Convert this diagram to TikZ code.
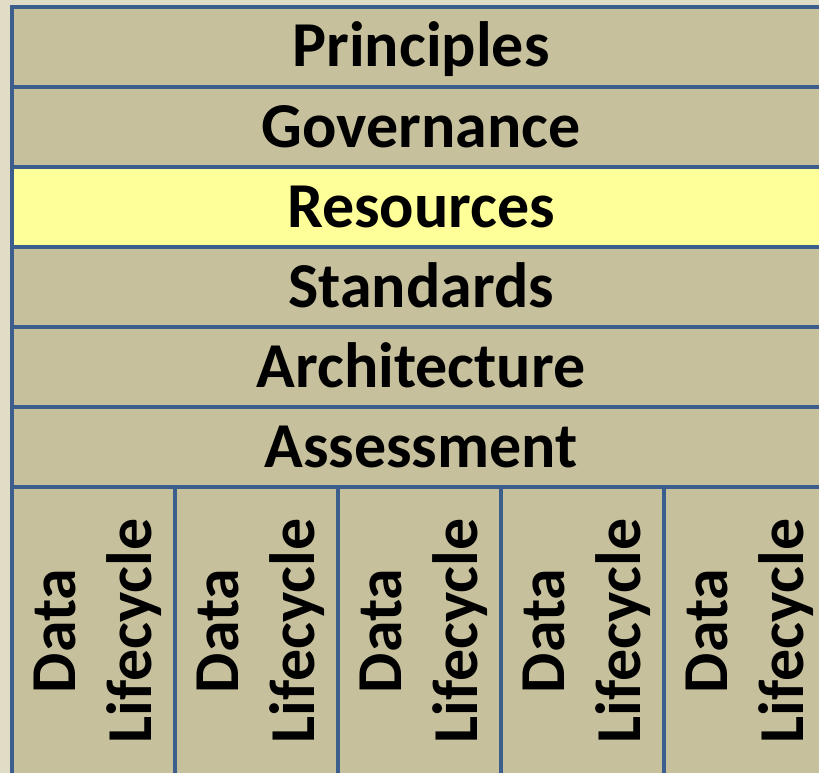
\documentclass[tikz,border=0pt]{standalone}
\usepackage{fontspec}
\setmainfont{Carlito}
\usetikzlibrary{positioning}
\definecolor{pagebg}{HTML}{E0DCC6}
\definecolor{layerfill}{HTML}{C6C09C}
\definecolor{hilite}{HTML}{FFFF99}
\definecolor{rule}{HTML}{3B5E8C}
\newcommand{\layertext}{\fontsize{64}{76}\selectfont\bfseries}

\begin{document}
\begin{tikzpicture}[
    x=1pt, y=-1pt,
    every node/.style={
        draw=rule,
        line width=4.5pt,
        inner sep=0pt,
        outer sep=0pt,
        font=\layertext,
        align=center,
        text depth=0pt
      },
    layer/.style={
        fill=layerfill,
        minimum width=818pt,
        minimum height=80pt,
        text height=40pt
      },
    lifecol/.style={
        fill=layerfill,
        rotate=90,
        minimum width=288pt,
        minimum height=163pt,
        text height=116pt
      }
    ]

    % ============= FOND ==================
    \fill[pagebg] (0,0) rectangle (819,773);
    \useasboundingbox (0,0) rectangle (819,773);

    % ============= COUCHES ==================

    % -------------------------------
    \node[layer] (P) at (421,47) {Principles};
    \node[layer, below=0pt of P] (G) {Governance};
    \node[layer, fill=hilite, below=0pt of G] (R) {Resources};
    \node[layer, below=0pt of R] (S) {Standards};
    \node[layer, below=0pt of S] (A) {Architecture};
    \node[layer, below=0pt of A] (AS) {Assessment};
    % -------------------------------

    % ============= CYCLE DE VIE ==================

    % -------------------------------
    \node[lifecol] (L1) at (93.5,631) {Data\\Lifecycle};
    \node[lifecol] (L2) at (256.5,631) {Data\\Lifecycle};
    \node[lifecol] (L3) at (419.5,631) {Data\\Lifecycle};
    \node[lifecol] (L4) at (582.5,631) {Data\\Lifecycle};
    \node[lifecol] (L5) at (745.5,631) {Data\\Lifecycle};
    % -------------------------------

  \end{tikzpicture}
\end{document}
